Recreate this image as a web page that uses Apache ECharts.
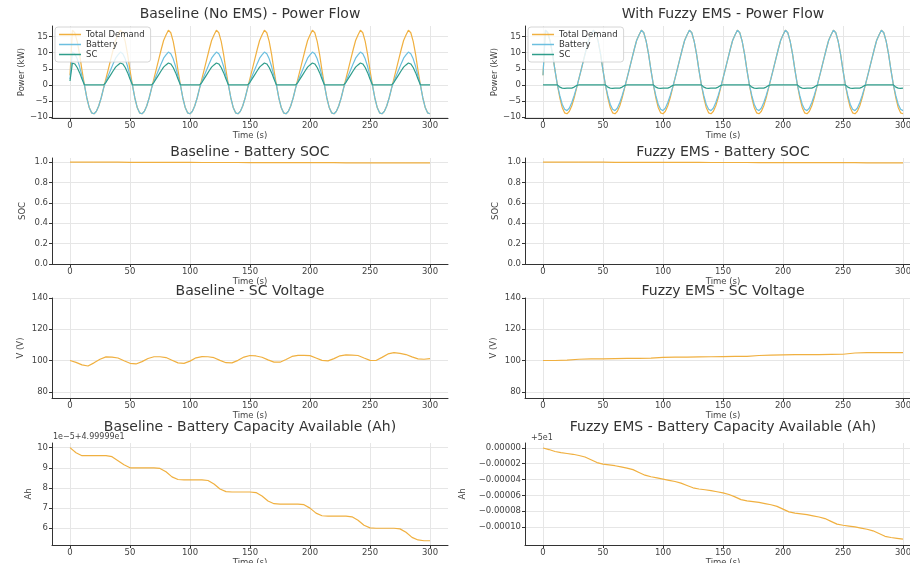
<!DOCTYPE html>
<html><head><meta charset="utf-8">
<script src="https://cdn.jsdelivr.net/npm/echarts@6.0.0/dist/echarts.min.js"></script>
<style>html,body{margin:0;padding:0;background:#fff}#c{width:910px;height:563px}</style>
</head><body><div id="c"></div>
<script>
// ---------- labels & ticks ----------
const seriesNames = ['Total Demand', 'Battery', 'SC'];
const panelTitles = [
  'Baseline (No EMS) - Power Flow', 'With Fuzzy EMS - Power Flow',
  'Baseline - Battery SOC', 'Fuzzy EMS - Battery SOC',
  'Baseline - SC Voltage', 'Fuzzy EMS - SC Voltage',
  'Baseline - Battery Capacity Available (Ah)', 'Fuzzy EMS - Battery Capacity Available (Ah)'
];
const yNames = ['Power (kW)', 'SOC', 'V (V)', 'Ah'];
const xName = 'Time (s)';
const timeTicks = [0, 50, 100, 150, 200, 250, 300];
const powerTicks = [-10, -5, 0, 5, 10, 15];
const socTicks = [0, 0.2, 0.4, 0.6, 0.8, 1.0];
const voltTicks = [80, 100, 120, 140];
const ahBaseTicks = [6, 7, 8, 9, 10];
const ahFuzzyTicks = [0, -0.00002, -0.00004, -0.00006, -0.00008, -0.0001];
const ahBaseOffsetLabel = '1e\u22125+4.99999e1';
const ahFuzzyOffsetLabel = '+5e1';

// ---------- sampling grids (time, s) ----------
const timePower = Array.from({length: 151}, (_, i) => i * 2);
const time5 = Array.from({length: 61}, (_, i) => i * 5);
const time10 = Array.from({length: 31}, (_, i) => i * 10);

// ---------- power flow, baseline (kW, every 2 s) ----------
const baseDemand = [3,
17,16.2,13.5,9.5,4.5,0,-4,-7,-8.7,-9,-8.2,-6.5,-4,-1,2,5,8,11,13.8,15.5,
17,16.2,13.5,9.5,4.5,0,-4,-7,-8.7,-9,-8.2,-6.5,-4,-1,2,5,8,11,13.8,15.5,
17,16.2,13.5,9.5,4.5,0,-4,-7,-8.7,-9,-8.2,-6.5,-4,-1,2,5,8,11,13.8,15.5,
17,16.2,13.5,9.5,4.5,0,-4,-7,-8.7,-9,-8.2,-6.5,-4,-1,2,5,8,11,13.8,15.5,
17,16.2,13.5,9.5,4.5,0,-4,-7,-8.7,-9,-8.2,-6.5,-4,-1,2,5,8,11,13.8,15.5,
17,16.2,13.5,9.5,4.5,0,-4,-7,-8.7,-9,-8.2,-6.5,-4,-1,2,5,8,11,13.8,15.5,
17,16.2,13.5,9.5,4.5,0,-4,-7,-8.7,-9,-8.2,-6.5,-4,-1,2,5,8,11,13.8,15.5,
17,16.2,13.5,9.5,4.5,0,-4,-7,-8.7,-9];
const baseBattery = [1.8,
10.2,9.7,8.1,5.7,2.7,0,-4,-7,-8.7,-9,-8.2,-6.5,-4,-1,1.2,3,4.8,6.6,8.3,9.3,
10.2,9.7,8.1,5.7,2.7,0,-4,-7,-8.7,-9,-8.2,-6.5,-4,-1,1.2,3,4.8,6.6,8.3,9.3,
10.2,9.7,8.1,5.7,2.7,0,-4,-7,-8.7,-9,-8.2,-6.5,-4,-1,1.2,3,4.8,6.6,8.3,9.3,
10.2,9.7,8.1,5.7,2.7,0,-4,-7,-8.7,-9,-8.2,-6.5,-4,-1,1.2,3,4.8,6.6,8.3,9.3,
10.2,9.7,8.1,5.7,2.7,0,-4,-7,-8.7,-9,-8.2,-6.5,-4,-1,1.2,3,4.8,6.6,8.3,9.3,
10.2,9.7,8.1,5.7,2.7,0,-4,-7,-8.7,-9,-8.2,-6.5,-4,-1,1.2,3,4.8,6.6,8.3,9.3,
10.2,9.7,8.1,5.7,2.7,0,-4,-7,-8.7,-9,-8.2,-6.5,-4,-1,1.2,3,4.8,6.6,8.3,9.3,
10.2,9.7,8.1,5.7,2.7,0,-4,-7,-8.7,-9];
const baseSC = [1.2,
6.8,6.5,5.4,3.8,1.8,0,0,0,0,0,0,0,0,0,0.8,2,3.2,4.4,5.5,6.2,
6.8,6.5,5.4,3.8,1.8,0,0,0,0,0,0,0,0,0,0.8,2,3.2,4.4,5.5,6.2,
6.8,6.5,5.4,3.8,1.8,0,0,0,0,0,0,0,0,0,0.8,2,3.2,4.4,5.5,6.2,
6.8,6.5,5.4,3.8,1.8,0,0,0,0,0,0,0,0,0,0.8,2,3.2,4.4,5.5,6.2,
6.8,6.5,5.4,3.8,1.8,0,0,0,0,0,0,0,0,0,0.8,2,3.2,4.4,5.5,6.2,
6.8,6.5,5.4,3.8,1.8,0,0,0,0,0,0,0,0,0,0.8,2,3.2,4.4,5.5,6.2,
6.8,6.5,5.4,3.8,1.8,0,0,0,0,0,0,0,0,0,0.8,2,3.2,4.4,5.5,6.2,
6.8,6.5,5.4,3.8,1.8,0,0,0,0,0];

// ---------- power flow, fuzzy EMS (kW, every 2 s) ----------
const fuzzyDemand = baseDemand;
const fuzzyBattery = [3,
17,16.2,13.5,9.5,4.5,0,-3.3,-6,-7.6,-8,-7.2,-5.5,-3.3,-0.8,2,5,8,11,13.8,15.5,
17,16.2,13.5,9.5,4.5,0,-3.3,-6,-7.6,-8,-7.2,-5.5,-3.3,-0.8,2,5,8,11,13.8,15.5,
17,16.2,13.5,9.5,4.5,0,-3.3,-6,-7.6,-8,-7.2,-5.5,-3.3,-0.8,2,5,8,11,13.8,15.5,
17,16.2,13.5,9.5,4.5,0,-3.3,-6,-7.6,-8,-7.2,-5.5,-3.3,-0.8,2,5,8,11,13.8,15.5,
17,16.2,13.5,9.5,4.5,0,-3.3,-6,-7.6,-8,-7.2,-5.5,-3.3,-0.8,2,5,8,11,13.8,15.5,
17,16.2,13.5,9.5,4.5,0,-3.3,-6,-7.6,-8,-7.2,-5.5,-3.3,-0.8,2,5,8,11,13.8,15.5,
17,16.2,13.5,9.5,4.5,0,-3.3,-6,-7.6,-8,-7.2,-5.5,-3.3,-0.8,2,5,8,11,13.8,15.5,
17,16.2,13.5,9.5,4.5,0,-3.3,-6,-7.6,-8];
const fuzzySC = [0,
0,0,0,0,0,0,-0.7,-1,-1.1,-1,-1,-1,-0.7,-0.2,0,0,0,0,0,0,
0,0,0,0,0,0,-0.7,-1,-1.1,-1,-1,-1,-0.7,-0.2,0,0,0,0,0,0,
0,0,0,0,0,0,-0.7,-1,-1.1,-1,-1,-1,-0.7,-0.2,0,0,0,0,0,0,
0,0,0,0,0,0,-0.7,-1,-1.1,-1,-1,-1,-0.7,-0.2,0,0,0,0,0,0,
0,0,0,0,0,0,-0.7,-1,-1.1,-1,-1,-1,-0.7,-0.2,0,0,0,0,0,0,
0,0,0,0,0,0,-0.7,-1,-1.1,-1,-1,-1,-0.7,-0.2,0,0,0,0,0,0,
0,0,0,0,0,0,-0.7,-1,-1.1,-1,-1,-1,-0.7,-0.2,0,0,0,0,0,0,
0,0,0,0,0,0,-0.7,-1,-1.1,-1];

// ---------- battery SOC (every 10 s) ----------
const socBase = [1.000,1.000,0.999,0.999,0.999,0.998,0.998,0.998,0.997,0.997,0.997,0.996,0.996,0.996,0.996,0.995,
0.995,0.995,0.995,0.994,0.994,0.994,0.994,0.993,0.993,0.993,0.993,0.993,0.992,0.992,0.992];
const socFuzzy = [1.000,1.000,1.000,0.999,0.999,0.999,0.998,0.998,0.998,0.998,0.997,0.997,0.997,0.997,0.996,0.996,
0.996,0.996,0.995,0.995,0.995,0.995,0.994,0.994,0.994,0.994,0.994,0.993,0.993,0.993,0.993];

// ---------- SC voltage ----------
const voltBase = [100,98.8,97.2,96.5,98.5,100.8,102.3,102.2,101.6,99.8,98.2,97.8,99.3,101.3,102.4,102.4,101.9,100.2,
98.5,98.2,99.6,101.7,102.5,102.4,101.8,100.1,98.6,98.5,100.1,102.2,103.2,102.9,102.1,100.4,99.0,98.9,100.6,102.6,
103.3,103.3,103.1,101.6,100.1,99.8,101.2,103.0,103.6,103.5,103.2,101.6,100.1,100.0,102.0,104.2,105.0,104.6,103.8,
102.3,101.0,100.8,101.2];
const voltFuzzy = [100,100,100.3,100.8,101,101,101.2,101.4,101.4,101.5,102,102.1,102.2,102.3,102.4,102.5,102.6,102.7,
103.2,103.5,103.6,103.7,103.8,103.8,103.9,104,104.8,105,105,105,105.1];

// ---------- battery capacity available (every 5 s) ----------
const ahBase = [10.0,9.75,9.6,9.6,9.6,9.6,9.6,9.55,9.35,9.15,9.0,9.0,9.0,9.0,9.0,8.97,8.8,8.55,8.42,8.4,8.4,8.4,8.4,
8.37,8.2,7.95,7.82,7.8,7.8,7.8,7.8,7.77,7.6,7.35,7.22,7.2,7.2,7.2,7.2,7.17,7.0,6.75,6.62,6.6,6.6,6.6,6.6,6.57,6.4,
6.15,6.02,6.0,6.0,6.0,6.0,5.97,5.8,5.55,5.42,5.38,5.38];
const ahFuzzy = [0,-0.2e-5,-0.45e-5,-0.6e-5,-0.7e-5,-0.8e-5,-0.95e-5,-1.15e-5,-1.5e-5,-1.85e-5,-2.05e-5,-2.15e-5,
-2.25e-5,-2.4e-5,-2.55e-5,-2.75e-5,-3.1e-5,-3.45e-5,-3.65e-5,-3.8e-5,-3.95e-5,-4.1e-5,-4.25e-5,-4.45e-5,-4.75e-5,
-5.05e-5,-5.2e-5,-5.3e-5,-5.4e-5,-5.55e-5,-5.7e-5,-5.9e-5,-6.2e-5,-6.55e-5,-6.7e-5,-6.8e-5,-6.9e-5,-7.05e-5,-7.2e-5,
-7.4e-5,-7.75e-5,-8.1e-5,-8.25e-5,-8.35e-5,-8.45e-5,-8.6e-5,-8.75e-5,-8.95e-5,-9.3e-5,-9.65e-5,-9.8e-5,-9.9e-5,
-10.0e-5,-10.15e-5,-10.3e-5,-10.5e-5,-10.85e-5,-11.2e-5,-11.35e-5,-11.45e-5,-11.55e-5];

// ---------- styling / layout ----------
const FONT = 'DejaVu Sans';
const COLORS = ['#f0b040', '#6cbfdf', '#2f9d8b'];
const AXC = '#333', LBLC = '#444', GRIDC = '#e6e6e6';
const TICKF = 8.5, NAMEF = 8.5;
const colLeft = [52, 525];
const plotW = 396;
const rows = [{top: 26, h: 92}, {top: 158, h: 106}, {top: 298, h: 100}, {top: 443, h: 102}];
const titleY = [7, 145, 284, 420];
const colCenter = [250, 723];

const minus = s => String(s).replace('-', '\u2212');
const panels = [
  {yMin: -10.3, yMax: 18.3, ticks: powerTicks, fmt: v => minus(v), gap: 26},
  {yMin: -10.3, yMax: 18.3, ticks: powerTicks, fmt: v => minus(v), gap: 26},
  {yMin: 0, yMax: 1.04, ticks: socTicks, fmt: v => v.toFixed(1), gap: 25},
  {yMin: 0, yMax: 1.04, ticks: socTicks, fmt: v => v.toFixed(1), gap: 25},
  {yMin: 76, yMax: 140, ticks: voltTicks, fmt: v => String(v), gap: 27},
  {yMin: 76, yMax: 140, ticks: voltTicks, fmt: v => String(v), gap: 27},
  {yMin: 5.17, yMax: 10.23, ticks: ahBaseTicks, fmt: v => String(v), gap: 19},
  {yMin: -1.23e-4, yMax: 0.63e-5, ticks: ahFuzzyTicks, fmt: v => minus(v.toFixed(5)), gap: 58}
];

const grid = [], xAxis = [], yAxis = [], title = [], series = [];
panels.forEach((p, i) => {
  const r = Math.floor(i / 2), c = i % 2;
  grid.push({left: colLeft[c], top: rows[r].top, width: plotW, height: rows[r].h, containLabel: false, outerBoundsMode: 'none'});
  xAxis.push({
    type: 'value', gridIndex: i, min: -15, max: 315,
    name: xName, nameLocation: 'middle', nameGap: 12,
    nameTextStyle: {fontFamily: FONT, fontSize: NAMEF, color: LBLC},
    axisLine: {show: true, onZero: false, lineStyle: {color: AXC, width: 1}},
    axisTick: {show: true, length: 3, inside: false, customValues: timeTicks, lineStyle: {color: AXC}},
    axisLabel: {customValues: timeTicks, fontFamily: FONT, fontSize: TICKF, color: LBLC, margin: 3, formatter: v => String(v)},
    splitLine: {show: true, lineStyle: {color: GRIDC, width: 1}}
  });
  yAxis.push({
    type: 'value', gridIndex: i, min: p.yMin, max: p.yMax,
    name: yNames[r], nameLocation: 'middle', nameGap: p.gap, nameRotate: 90,
    nameTextStyle: {fontFamily: FONT, fontSize: NAMEF, color: LBLC},
    axisLine: {show: true, onZero: false, lineStyle: {color: AXC, width: 1}},
    axisTick: {show: true, length: 3, inside: false, customValues: p.ticks, lineStyle: {color: AXC}},
    axisLabel: {customValues: p.ticks, fontFamily: FONT, fontSize: TICKF, color: LBLC, margin: 4, formatter: p.fmt},
    splitLine: {show: true, lineStyle: {color: GRIDC, width: 1}}
  });
  title.push({
    text: panelTitles[i], left: colCenter[c], top: titleY[r], textAlign: 'center', padding: 0,
    textStyle: {fontFamily: FONT, fontSize: 14, fontWeight: 'normal', color: '#333'}
  });
});
title.push({text: ahBaseOffsetLabel, left: 53, top: 433, padding: 0,
  textStyle: {fontFamily: FONT, fontSize: 8, fontWeight: 'normal', color: LBLC}});
title.push({text: ahFuzzyOffsetLabel, left: 531, top: 434, padding: 0,
  textStyle: {fontFamily: FONT, fontSize: 8, fontWeight: 'normal', color: LBLC}});

const pair = (ts, vs) => ts.map((t, k) => [t, vs[k]]);
const lineSeries = (name, idx, ts, vs, color) => ({
  type: 'line', name, xAxisIndex: idx, yAxisIndex: idx, data: pair(ts, vs),
  symbol: 'none', showSymbol: false, smooth: false, clip: true,
  lineStyle: {color, width: 1.2}, itemStyle: {color}, emphasis: {disabled: true}
});
const powerSets = [[baseDemand, baseBattery, baseSC], [fuzzyDemand, fuzzyBattery, fuzzySC]];
powerSets.forEach((set, i) => set.forEach((vs, k) => series.push(lineSeries(seriesNames[k], i, timePower, vs, COLORS[k]))));
series.push(lineSeries('SOC base', 2, time10, socBase, COLORS[0]));
series.push(lineSeries('SOC fuzzy', 3, time10, socFuzzy, COLORS[0]));
series.push(lineSeries('V base', 4, time5, voltBase, COLORS[0]));
series.push(lineSeries('V fuzzy', 5, time10, voltFuzzy, COLORS[0]));
series.push(lineSeries('Ah base', 6, time5, ahBase, COLORS[0]));
series.push(lineSeries('Ah fuzzy', 7, time5, ahFuzzy, COLORS[0]));

const legendBase = {
  orient: 'vertical', data: seriesNames, top: 27, padding: [3, 6, 3, 4], itemGap: 1,
  icon: 'rect', itemWidth: 22, itemHeight: 1.5, backgroundColor: 'rgba(255,255,255,0.8)',
  borderColor: '#cccccc', borderWidth: 0.8, borderRadius: 3,
  textStyle: {fontFamily: FONT, fontSize: 8.5, color: '#333'}, selectedMode: false
};
const legend = [Object.assign({}, legendBase, {left: 55}), Object.assign({}, legendBase, {left: 528})];

const chart = echarts.init(document.getElementById('c'), null, {renderer: 'canvas'});
chart.setOption({animation: false, backgroundColor: '#fff', textStyle: {fontFamily: FONT}, grid, xAxis, yAxis, title, legend, series});
</script></body></html>
